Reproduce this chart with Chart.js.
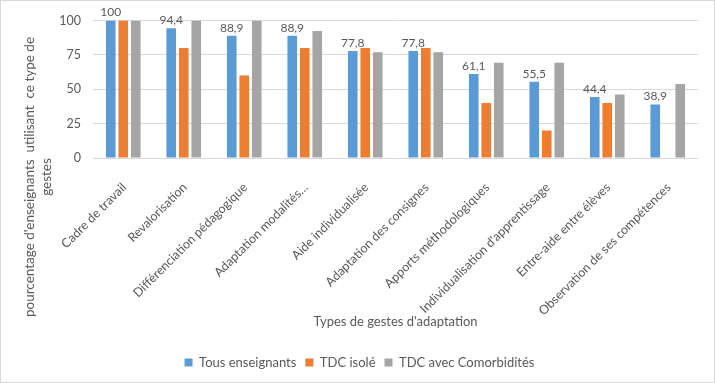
<!DOCTYPE html>
<html>
<head>
<meta charset="utf-8">
<script src="https://cdn.jsdelivr.net/npm/chart.js@4"></script>
<style>
html,body{margin:0;padding:0;background:#fff;}
#wrap{position:absolute;left:0;top:0;width:713px;height:381px;border:1px solid #d9d9d9;}
</style>
</head>
<body>
<div id="wrap"><canvas id="chart" width="713" height="381"></canvas></div>
<script>
const categories = ["Cadre de travail","Revalorisation","Différenciation pédagogique","Adaptation modalités…","Aide individualisée","Adaptation des consignes","Apports méthodologiques","Individualisation d'apprentissage","Entre-aide entre élèves","Observation de ses compétences"]
const tous = [100,94.4,88.9,88.9,77.8,77.8,61.1,55.5,44.4,38.9]
const tdcIsole = [100,80,60,80,80,80,40,20,40,0]
const tdcComorb = [100,100,100,92.3,76.9,76.9,69.2,69.2,46.2,53.8]
const yTicks = [0,25,50,75,100]

const FONT = "Lato"
const TXT = "#595959"

/* labels above the first series */
const valueLabels = {
id:"valueLabels",
afterDatasetsDraw(chart){
let ctx = chart.ctx
let meta = chart.getDatasetMeta(0)
ctx.save()
ctx.font = "12px "+FONT
ctx.fillStyle = TXT
ctx.textAlign = "center"
ctx.textBaseline = "bottom"
meta.data.forEach((bar,i)=>{
ctx.fillText(String(tous[i]).replace(".",","), bar.x, bar.y-2)
})
ctx.restore()
}
}

/* y title in two lines, like the original */
const yTitle = {
id:"yTitle",
afterDraw(chart){
let ctx = chart.ctx
ctx.save()
ctx.font = "13.5px "+FONT
ctx.fillStyle = TXT
ctx.textAlign = "center"
ctx.textBaseline = "middle"
ctx.translate(29,176)
ctx.rotate(-Math.PI/2)
ctx.fillText("pourcentage d'enseignants  utilisant  ce type de",0,0)
ctx.fillText("gestes",0,17)
ctx.restore()
}
}

new Chart(document.getElementById("chart"),{
type:"bar",
data:{
labels:categories,
datasets:[
{label:"Tous enseignants",data:tous,backgroundColor:"#5B9BD5"},
{label:"TDC isolé",data:tdcIsole,backgroundColor:"#ED7D31"},
{label:"TDC avec Comorbidités",data:tdcComorb,backgroundColor:"#A5A5A5"}
]
},
options:{
responsive:false,
animation:false,
layout:{padding:{left:20,right:16,top:19,bottom:3}},
datasets:{bar:{categoryPercentage:0.62,barPercentage:0.77}},
scales:{
y:{
min:0,max:100,
afterBuildTicks:s=>{s.ticks = yTicks.map(v=>({value:v}))},
afterFit:s=>{s.width = 72},
border:{display:false},
grid:{color:"#d9d9d9",drawTicks:false},
ticks:{color:TXT,font:{family:FONT,size:12.5},padding:12}
},
x:{
afterFit:s=>{s.height = 189},
border:{display:false},
grid:{display:false},
ticks:{color:TXT,font:{family:FONT,size:12.5},minRotation:45,maxRotation:45,padding:14,labelOffset:1},
title:{display:true,text:"Types de gestes d'adaptation",color:TXT,font:{family:FONT,size:13},padding:{top:8,bottom:17}}
}
},
plugins:{
legend:{
position:"bottom",
labels:{boxWidth:8,boxHeight:8,color:TXT,font:{family:FONT,size:13},padding:9}
},
tooltip:{enabled:false}
}
},
plugins:[valueLabels,yTitle]
})
</script>
</body>
</html>
